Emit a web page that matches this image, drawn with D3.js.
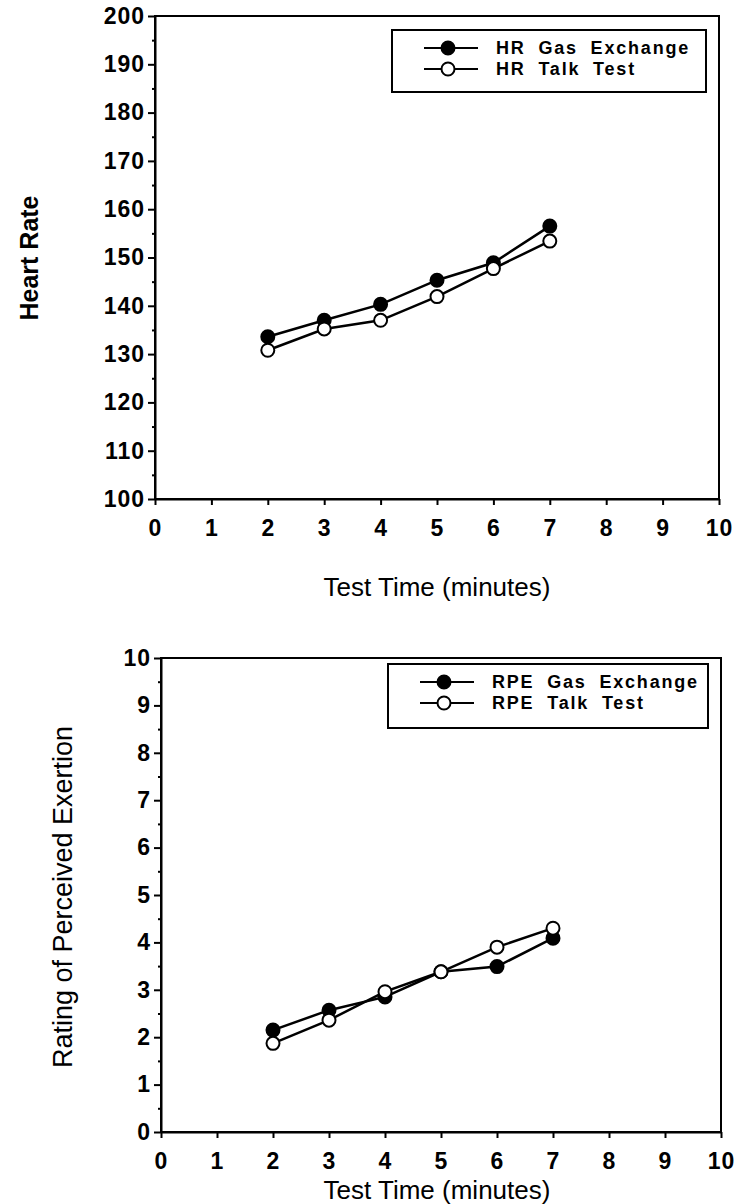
<!DOCTYPE html>
<html>
<head>
<meta charset="utf-8">
<script src="https://cdn.jsdelivr.net/npm/d3@7"></script>
<style>
  body { margin: 0; background: white; }
  svg { display: block; }
  text { font-family: "Liberation Sans", Arial, Helvetica, sans-serif; fill: black; }
  .axis text { font-size: 23px; font-weight: bold; letter-spacing: 1px; }
  .axis path, .axis line { stroke: black; stroke-width: 2; }
  .legend text { font-size: 18px; font-weight: bold; letter-spacing: 1.8px; word-spacing: 6px; }
</style>
</head>
<body>
<div class="chart"></div>
<script>
const width = 747;
const height = 1204;

// test time (minutes) for both panels
const minutes = [2, 3, 4, 5, 6, 7];

// heart rate panel
const hrGasExchange = [133.6, 137.0, 140.3, 145.3, 148.9, 156.5];
const hrTalkTest = [130.8, 135.2, 137.0, 141.9, 147.7, 153.4];

// RPE panel
const rpeGasExchange = [2.15, 2.57, 2.85, 3.38, 3.49, 4.09];
const rpeTalkTest = [1.87, 2.36, 2.96, 3.38, 3.90, 4.30];

const xTicks = [0, 1, 2, 3, 4, 5, 6, 7, 8, 9, 10];
const hrTicks = [100, 110, 120, 130, 140, 150, 160, 170, 180, 190, 200];
const hrMinorTicks = [105, 115, 125, 135, 145, 155, 165, 175, 185, 195];
const rpeTicks = [0, 1, 2, 3, 4, 5, 6, 7, 8, 9, 10];
const rpeMinorTicks = [0.5, 1.5, 2.5, 3.5, 4.5, 5.5, 6.5, 7.5, 8.5, 9.5];

const svg = d3.select("div.chart").append("svg")
  .attr("width", width)
  .attr("height", height)
  .style("background-color", "white");

const drawPanel = (p) => {
  const scaleX = d3.scaleLinear()
    .domain([0, 10])
    .range([p.left, p.right]);
  const scaleY = d3.scaleLinear()
    .domain(p.yDomain)
    .range([p.bottom, p.top]);

  const g = svg.append('g');

  // plot frame
  g.append('rect')
    .attr('x', p.left)
    .attr('y', p.top)
    .attr('width', p.right - p.left)
    .attr('height', p.bottom - p.top)
    .attr('fill', 'none')
    .attr('stroke', 'black')
    .attr('stroke-width', 2);

  // minor y ticks
  g.append('g')
    .attr('class', 'axis')
    .attr('transform', `translate(${p.left},0)`)
    .call(d3.axisLeft(scaleY).tickValues(p.yMinor).tickSize(3).tickFormat(''))
    .select('.domain').remove();

  // y axis
  g.append('g')
    .attr('class', 'axis')
    .attr('transform', `translate(${p.left},0)`)
    .call(d3.axisLeft(scaleY).tickValues(p.yTicks).tickSize(7).tickPadding(3).tickSizeOuter(0));

  // x axis
  g.append('g')
    .attr('class', 'axis')
    .attr('transform', `translate(0,${p.bottom})`)
    .call(d3.axisBottom(scaleX).tickValues(xTicks).tickSize(6).tickPadding(15).tickSizeOuter(0));

  // series: gas exchange first, talk test on top
  const line = d3.line()
    .x((d, i) => scaleX(minutes[i]))
    .y(d => scaleY(d));

  p.series.forEach((s) => {
    g.append('path')
      .datum(s.values)
      .attr('d', line)
      .attr('fill', 'none')
      .attr('stroke', 'black')
      .attr('stroke-width', 2.5);
  });
  p.series.forEach((s) => {
    g.selectAll(null)
      .data(s.values)
      .enter()
      .append('circle')
      .attr('cx', (d, i) => scaleX(minutes[i]))
      .attr('cy', d => scaleY(d))
      .attr('r', 6.5)
      .attr('fill', s.filled ? 'black' : 'white')
      .attr('stroke', 'black')
      .attr('stroke-width', 2);
  });

  // legend
  const legend = g.append('g').attr('class', 'legend');
  legend.append('rect')
    .attr('x', p.legend.x)
    .attr('y', p.legend.y)
    .attr('width', p.legend.w)
    .attr('height', p.legend.h)
    .attr('fill', 'white')
    .attr('stroke', 'black')
    .attr('stroke-width', 2);

  p.series.forEach((s, i) => {
    const rowY = p.legend.y + 18 + i * 21;
    legend.append('line')
      .attr('x1', p.legend.x + 32)
      .attr('x2', p.legend.x + 86)
      .attr('y1', rowY)
      .attr('y2', rowY)
      .attr('stroke', 'black')
      .attr('stroke-width', 2);
    legend.append('circle')
      .attr('cx', p.legend.x + 56)
      .attr('cy', rowY)
      .attr('r', 6.5)
      .attr('fill', s.filled ? 'black' : 'white')
      .attr('stroke', 'black')
      .attr('stroke-width', 2);
    legend.append('text')
      .attr('x', p.legend.x + 104)
      .attr('y', rowY + 6)
      .text(s.name);
  });

  // y axis title
  g.append('text')
    .attr('transform', `translate(${p.yTitle.x},${p.yTitle.y}) rotate(-90)`)
    .attr('text-anchor', 'middle')
    .style('font-size', `${p.yTitle.size}px`)
    .style('font-weight', p.yTitle.weight)
    .text(p.yTitle.text);

  // x axis title
  g.append('text')
    .attr('x', 437)
    .attr('y', p.xTitleY)
    .attr('text-anchor', 'middle')
    .style('font-size', '26px')
    .text('Test Time (minutes)');
};

drawPanel({
  left: 155, right: 719, top: 16, bottom: 499,
  yDomain: [100, 200],
  yTicks: hrTicks,
  yMinor: hrMinorTicks,
  series: [
    { name: 'HR Gas Exchange', values: hrGasExchange, filled: true },
    { name: 'HR Talk Test', values: hrTalkTest, filled: false },
  ],
  legend: { x: 392, y: 30, w: 314, h: 62 },
  yTitle: { x: 38, y: 258, size: 25, weight: 'bold', text: 'Heart Rate' },
  xTitleY: 596,
});

drawPanel({
  left: 161, right: 721, top: 658, bottom: 1132,
  yDomain: [0, 10],
  yTicks: rpeTicks,
  yMinor: rpeMinorTicks,
  series: [
    { name: 'RPE Gas Exchange', values: rpeGasExchange, filled: true },
    { name: 'RPE Talk Test', values: rpeTalkTest, filled: false },
  ],
  legend: { x: 388, y: 664, w: 320, h: 64 },
  yTitle: { x: 72, y: 897, size: 27, weight: 'normal', text: 'Rating of Perceived Exertion' },
  xTitleY: 1199,
});
</script>
</body>
</html>
